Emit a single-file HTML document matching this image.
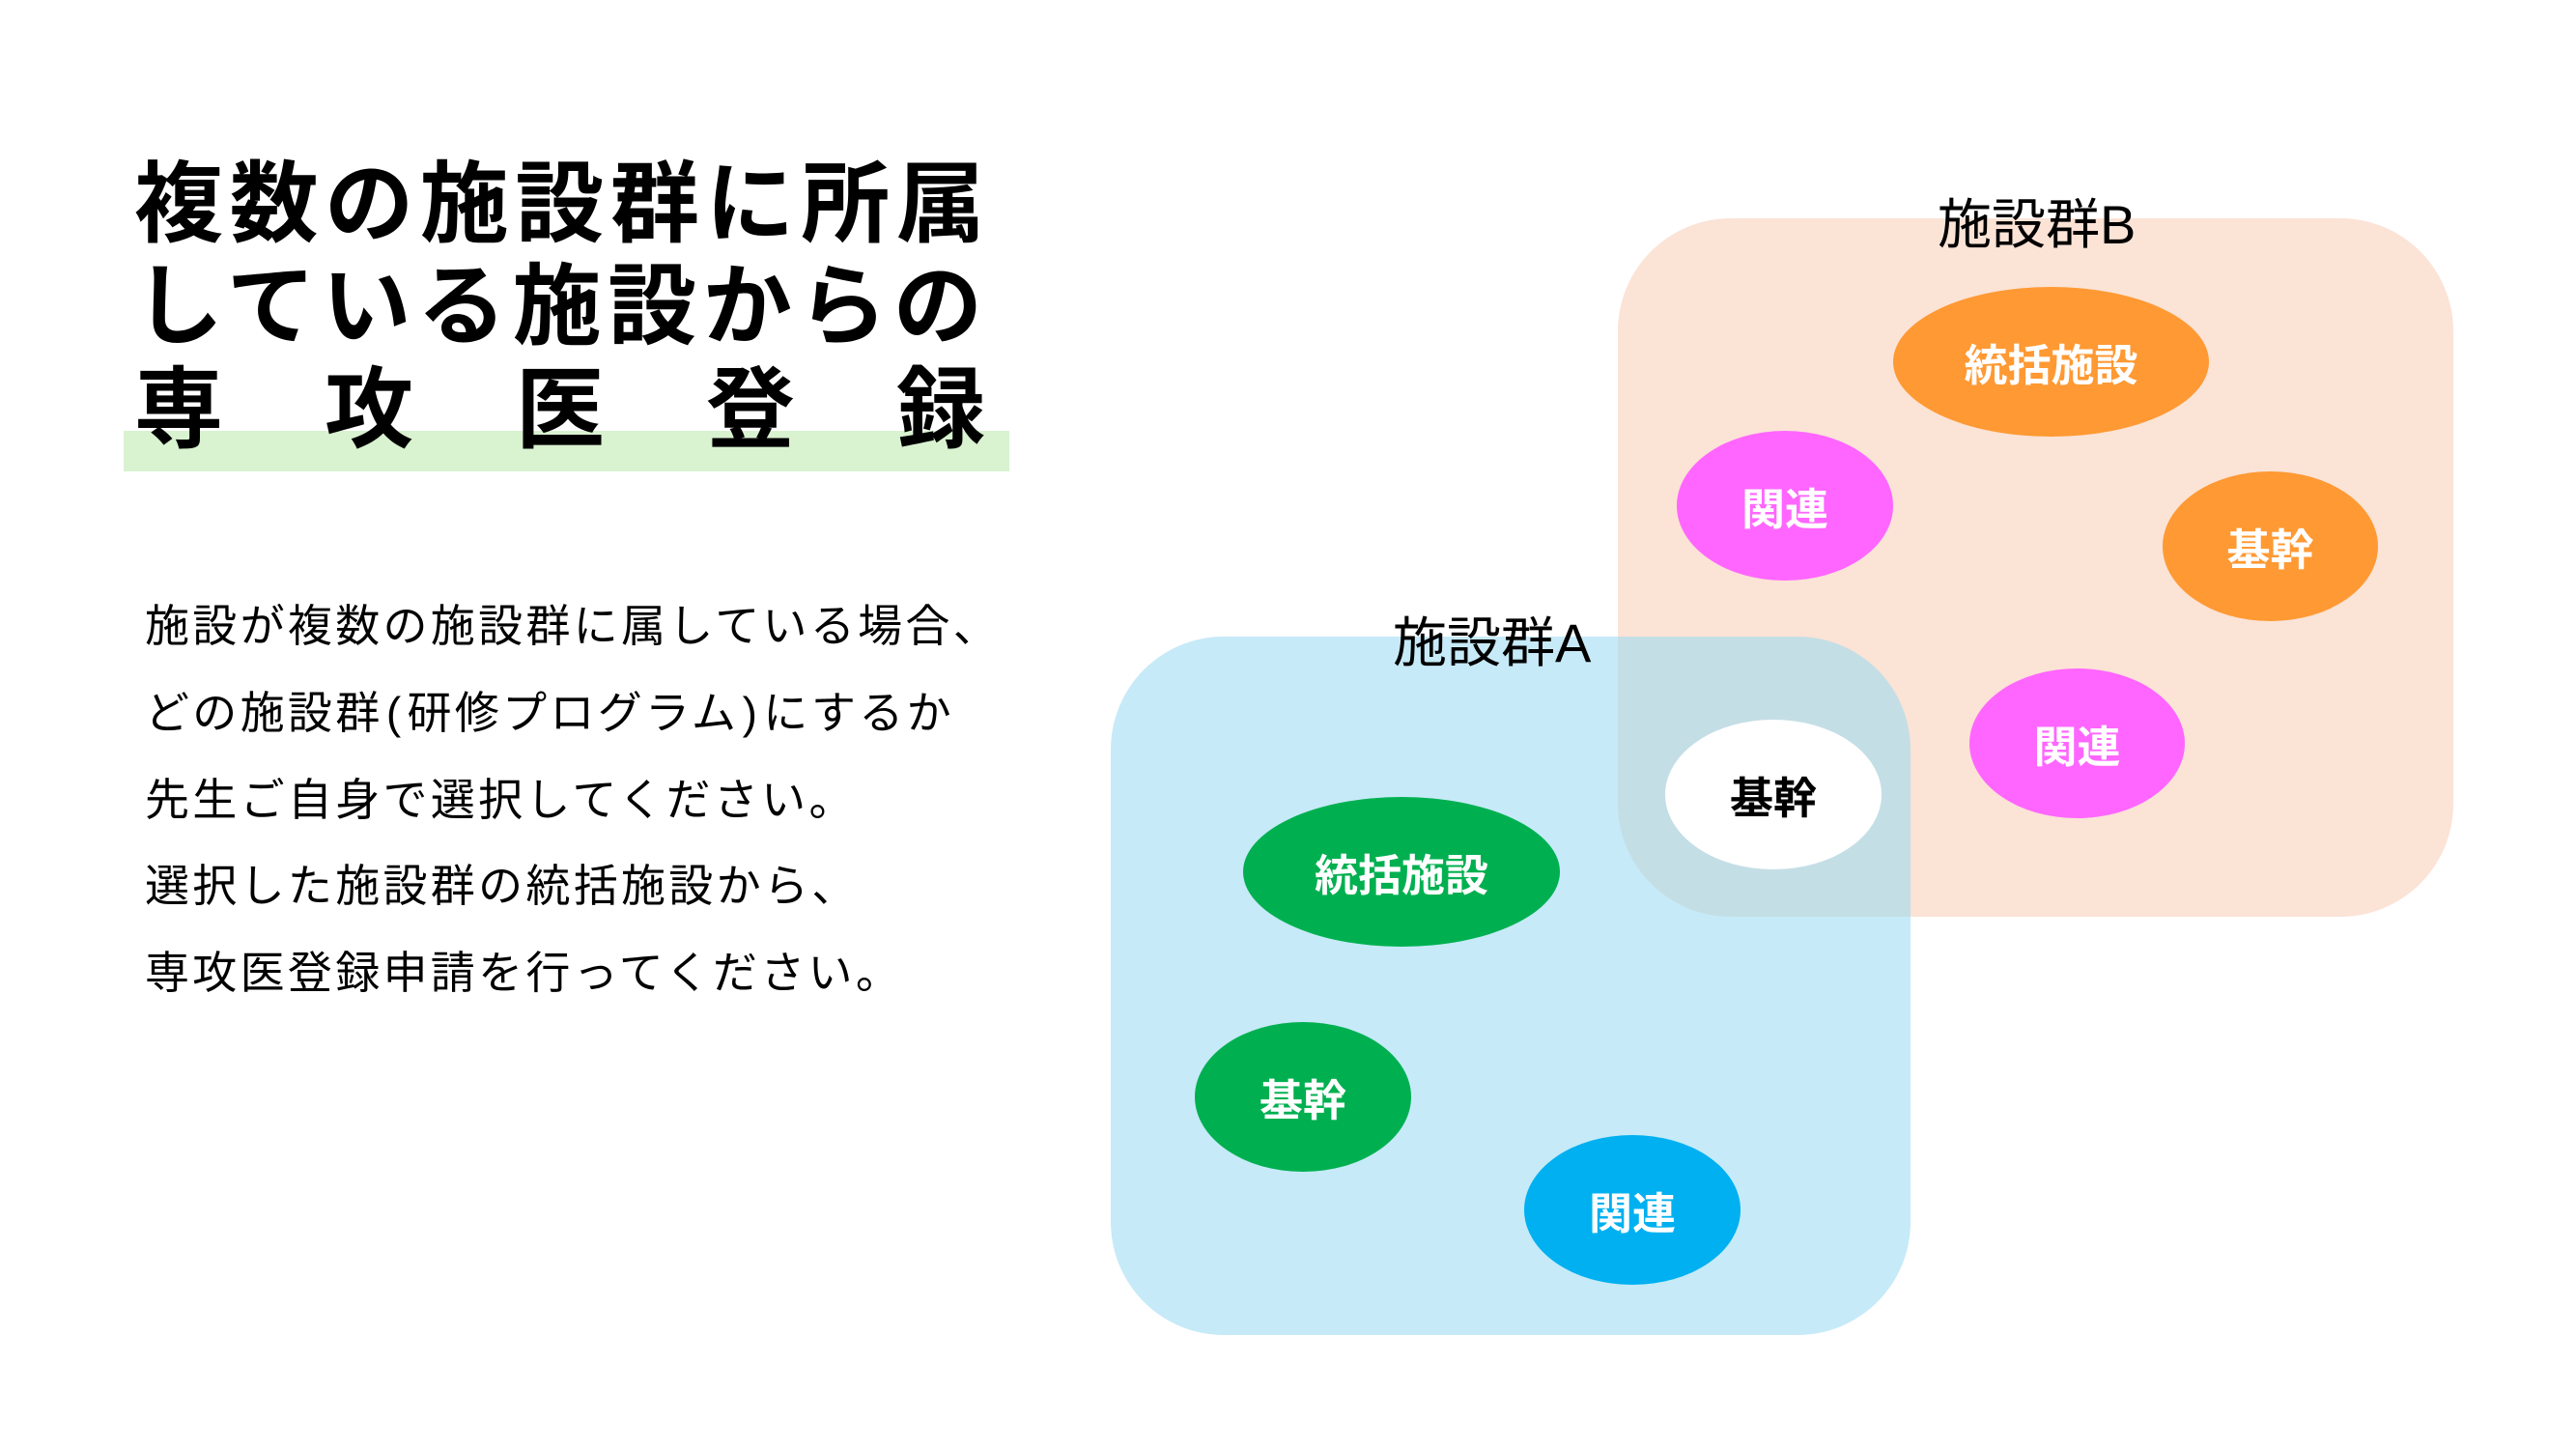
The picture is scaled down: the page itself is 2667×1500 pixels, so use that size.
<!DOCTYPE html>
<html lang="ja">
<head>
<meta charset="utf-8">
<style>
  html, body { margin:0; padding:0; }
  body {
    width:2667px; height:1500px; position:relative; overflow:hidden; background:#ffffff;
    font-family:"Liberation Sans","Noto Sans CJK JP",sans-serif; color:#000;
  }
  .abs { position:absolute; }
  .title { position:absolute; left:139px; font-size:92px; line-height:92px; font-weight:700; letter-spacing:6.6px; white-space:nowrap; }
  .t3 { position:absolute; font-size:92px; line-height:92px; font-weight:700; top:379px; }
  .body { position:absolute; left:150px; top:604px; font-size:46px; line-height:89.8px; letter-spacing:3.3px; white-space:nowrap; font-weight:400; }
  .par { display:inline-block; width:22px; text-align:center; letter-spacing:0; margin-right:3px; }
  .box { position:absolute; border-radius:117px; }
  .ell { position:absolute; border-radius:50%; display:flex; align-items:center; justify-content:center;
         font-size:45px; line-height:45px; font-weight:700; color:#fff; white-space:nowrap; box-sizing:border-box; padding-top:8px; }
  .glabel { position:absolute; font-size:56px; line-height:56px; white-space:nowrap; font-weight:400; }
</style>
</head>
<body>
  <!-- green highlight bar -->
  <div class="abs" style="left:128px; top:446px; width:917px; height:42px; background:#D9F2D0;"></div>

  <!-- Title -->
  <div class="title" style="top:166px;">複数の施設群に所属</div>
  <div class="title" style="top:272px;">している施設からの</div>
  <div class="t3" style="left:139px;">専</div>
  <div class="t3" style="left:336px;">攻</div>
  <div class="t3" style="left:534px;">医</div>
  <div class="t3" style="left:731px;">登</div>
  <div class="t3" style="left:928px;">録</div>

  <!-- Body text -->
  <div class="body">施設が複数の施設群に属している場合、<br>どの施設群<span class="par">(</span>研修プログラム<span class="par">)</span>にするか<br>先生ご自身で選択してください。<br>選択した施設群の統括施設から、<br>専攻医登録申請を行ってください。</div>

  <!-- Group boxes -->
  <div class="box" style="left:1675px; top:226px; width:865px; height:723px; background:#FBE3D6;"></div>
  <div class="box" style="left:1150px; top:659px; width:828px; height:723px; background:rgba(153,217,242,0.56);"></div>

  <!-- Group labels -->
  <div class="glabel" style="left:2006px; top:205px;">施設群B</div>
  <div class="glabel" style="left:1442px; top:638px;">施設群A</div>

  <!-- Group B nodes -->
  <div class="ell" style="left:1960px; top:297px; width:327px; height:155px; background:#FF9933;">統括施設</div>
  <div class="ell" style="left:1736px; top:446px; width:224px; height:155px; background:#FF66FF;">関連</div>
  <div class="ell" style="left:2239px; top:488px; width:223px; height:155px; background:#FF9933;">基幹</div>
  <div class="ell" style="left:2039px; top:692px; width:223px; height:155px; background:#FF66FF;">関連</div>

  <!-- Shared node -->
  <div class="ell" style="left:1724px; top:745px; width:224px; height:155px; background:#FFFFFF; color:#000;">基幹</div>

  <!-- Group A nodes -->
  <div class="ell" style="left:1287px; top:825px; width:328px; height:155px; background:#00B050;">統括施設</div>
  <div class="ell" style="left:1237px; top:1058px; width:224px; height:155px; background:#00B050;">基幹</div>
  <div class="ell" style="left:1578px; top:1175px; width:224px; height:155px; background:#00B0F0;">関連</div>
</body>
</html>
